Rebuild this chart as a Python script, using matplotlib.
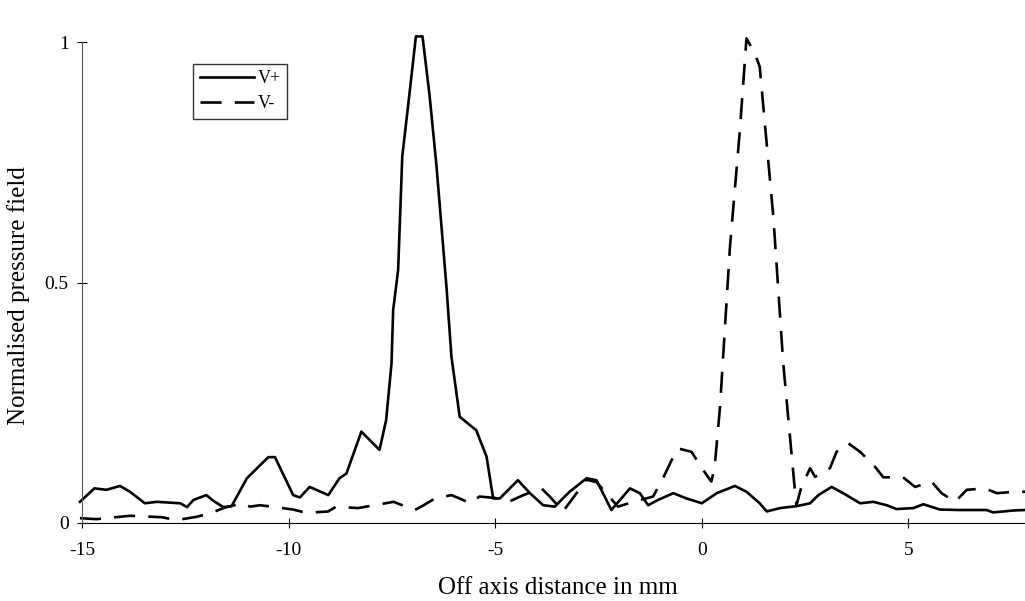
import matplotlib
matplotlib.use("Agg")
import matplotlib.pyplot as plt

# V+ (solid) trace
x_vplus = [-15.05, -14.7, -14.41, -14.08, -13.84, -13.48, -13.19, -12.62, -12.46, -12.3,
           -11.99, -11.82, -11.58, -11.38, -11.01, -10.49, -10.33, -9.89, -9.73, -9.49,
           -9.04, -8.77, -8.60, -8.24, -7.80, -7.64, -7.51, -7.47, -7.35, -7.25,
           -7.07, -6.92, -6.76, -6.59, -6.42, -6.18, -6.06, -5.86, -5.62, -5.46,
           -5.21, -5.05, -4.89, -4.45, -4.16, -3.84, -3.56, -3.20, -2.79, -2.55,
           -2.19, -1.74, -1.50, -1.30, -1.06, -0.69, -0.37, 0.0, 0.36, 0.80,
           1.08, 1.40, 1.57, 1.89, 2.29, 2.62, 2.82, 3.14, 3.42, 3.83,
           4.15, 4.47, 4.71, 5.12, 5.36, 5.76, 6.25, 6.89, 7.05, 7.54, 7.82]
y_vplus = [0.044, 0.072, 0.069, 0.077, 0.065, 0.041, 0.044, 0.041, 0.033, 0.048,
           0.058, 0.046, 0.033, 0.035, 0.093, 0.137, 0.137, 0.058, 0.053, 0.075,
           0.058, 0.093, 0.103, 0.19, 0.152, 0.214, 0.332, 0.443, 0.526, 0.762,
           0.897, 1.012, 1.012, 0.89, 0.741, 0.491, 0.346, 0.221, 0.204, 0.193,
           0.138, 0.051, 0.051, 0.089, 0.062, 0.037, 0.034, 0.065, 0.093, 0.089,
           0.027, 0.072, 0.062, 0.037, 0.048, 0.062, 0.051, 0.041, 0.062, 0.077,
           0.065, 0.041, 0.024, 0.031, 0.035, 0.041, 0.058, 0.075, 0.062, 0.041,
           0.044, 0.037, 0.029, 0.031, 0.039, 0.028, 0.027, 0.027, 0.022, 0.026, 0.027]

# V- (dashed) trace
x_vminus = [-15.05, -14.65, -13.84, -13.07, -12.71, -12.22, -11.90, -11.58, -11.13, -10.93,
            -10.69, -10.33, -9.89, -9.57, -9.04, -8.85, -8.32, -7.46, -6.95, -6.79,
            -6.46, -6.06, -5.78, -5.62, -5.38, -5.0, -4.65, -4.32, -3.88, -3.68,
            -3.36, -2.79, -2.55, -2.03, -1.66, -1.18, -0.94, -0.73, -0.57, -0.25,
            0.0, 0.23, 0.31, 0.44, 0.68, 0.92, 1.08, 1.28, 1.40, 1.73,
            1.97, 2.25, 2.29, 2.41, 2.62, 2.74, 3.10, 3.26, 3.54, 3.83,
            4.19, 4.39, 4.87, 5.16, 5.56, 5.80, 6.13, 6.41, 6.85, 7.14, 7.58, 7.82]
y_vminus = [0.010, 0.008, 0.015, 0.012, 0.006, 0.013, 0.020, 0.031, 0.041, 0.034,
            0.037, 0.033, 0.028, 0.021, 0.024, 0.034, 0.031, 0.044, 0.027, 0.034,
            0.051, 0.058, 0.048, 0.041, 0.055, 0.052, 0.045, 0.058, 0.072, 0.055,
            0.024, 0.090, 0.085, 0.034, 0.044, 0.055, 0.093, 0.131, 0.155, 0.148,
            0.114, 0.086, 0.117, 0.242, 0.574, 0.817, 1.008, 0.977, 0.949, 0.637,
            0.332, 0.069, 0.037, 0.075, 0.114, 0.096, 0.114, 0.148, 0.166, 0.148,
            0.117, 0.095, 0.095, 0.075, 0.086, 0.062, 0.044, 0.069, 0.072, 0.062, 0.065, 0.065]

x_ticks = [-15, -10, -5, 0, 5]
y_ticks = [0, 0.5, 1]
y_tick_labels = ["0", "0.5", "1"]

plt.rcParams['font.family'] = ['Liberation Serif', 'DejaVu Serif']

fig = plt.figure(figsize=(10.25, 6.01), dpi=100)
ax = fig.add_axes([0.080, 0.1298, 0.920, 0.800])

ax.plot(x_vplus, y_vplus, color="black", lw=1.9, label="V+", clip_on=False)
ax.plot(x_vminus, y_vminus, color="black", lw=1.9, dashes=(8, 5), label="V-", clip_on=False)

ax.set_xlim(-15, 7.82)
ax.set_ylim(0, 1)
for s in ["top", "right"]:
    ax.spines[s].set_visible(False)
ax.spines["left"].set_linewidth(0.8)
ax.spines["left"].set_color("#555555")
ax.spines["bottom"].set_linewidth(0.8)

ax.set_xticks(x_ticks)
ax.set_xticklabels([str(t) for t in x_ticks])
ax.set_yticks(y_ticks)
ax.set_yticklabels(y_tick_labels)
ax.tick_params(axis="x", direction="inout", length=7, width=0.8, labelsize=14, pad=10)
ax.tick_params(axis="y", direction="inout", length=7, width=0.8, labelsize=14, pad=6)

ax.set_xlabel("Off axis distance in mm", fontsize=18)
ax.xaxis.set_label_coords(0.505, -0.112)
ax.set_ylabel("Normalised pressure field", fontsize=18)
ax.yaxis.set_label_coords(-0.055, 0.474)

leg = ax.legend(loc="upper left", bbox_to_anchor=(0.118, 0.955), fontsize=13,
                frameon=True, fancybox=False, handlelength=3.0, handletextpad=0.2,
                borderpad=0.35, labelspacing=0.45, borderaxespad=0)
leg.get_frame().set_edgecolor("black")
leg.get_frame().set_linewidth(1.0)

plt.savefig("out.png", dpi=100)
